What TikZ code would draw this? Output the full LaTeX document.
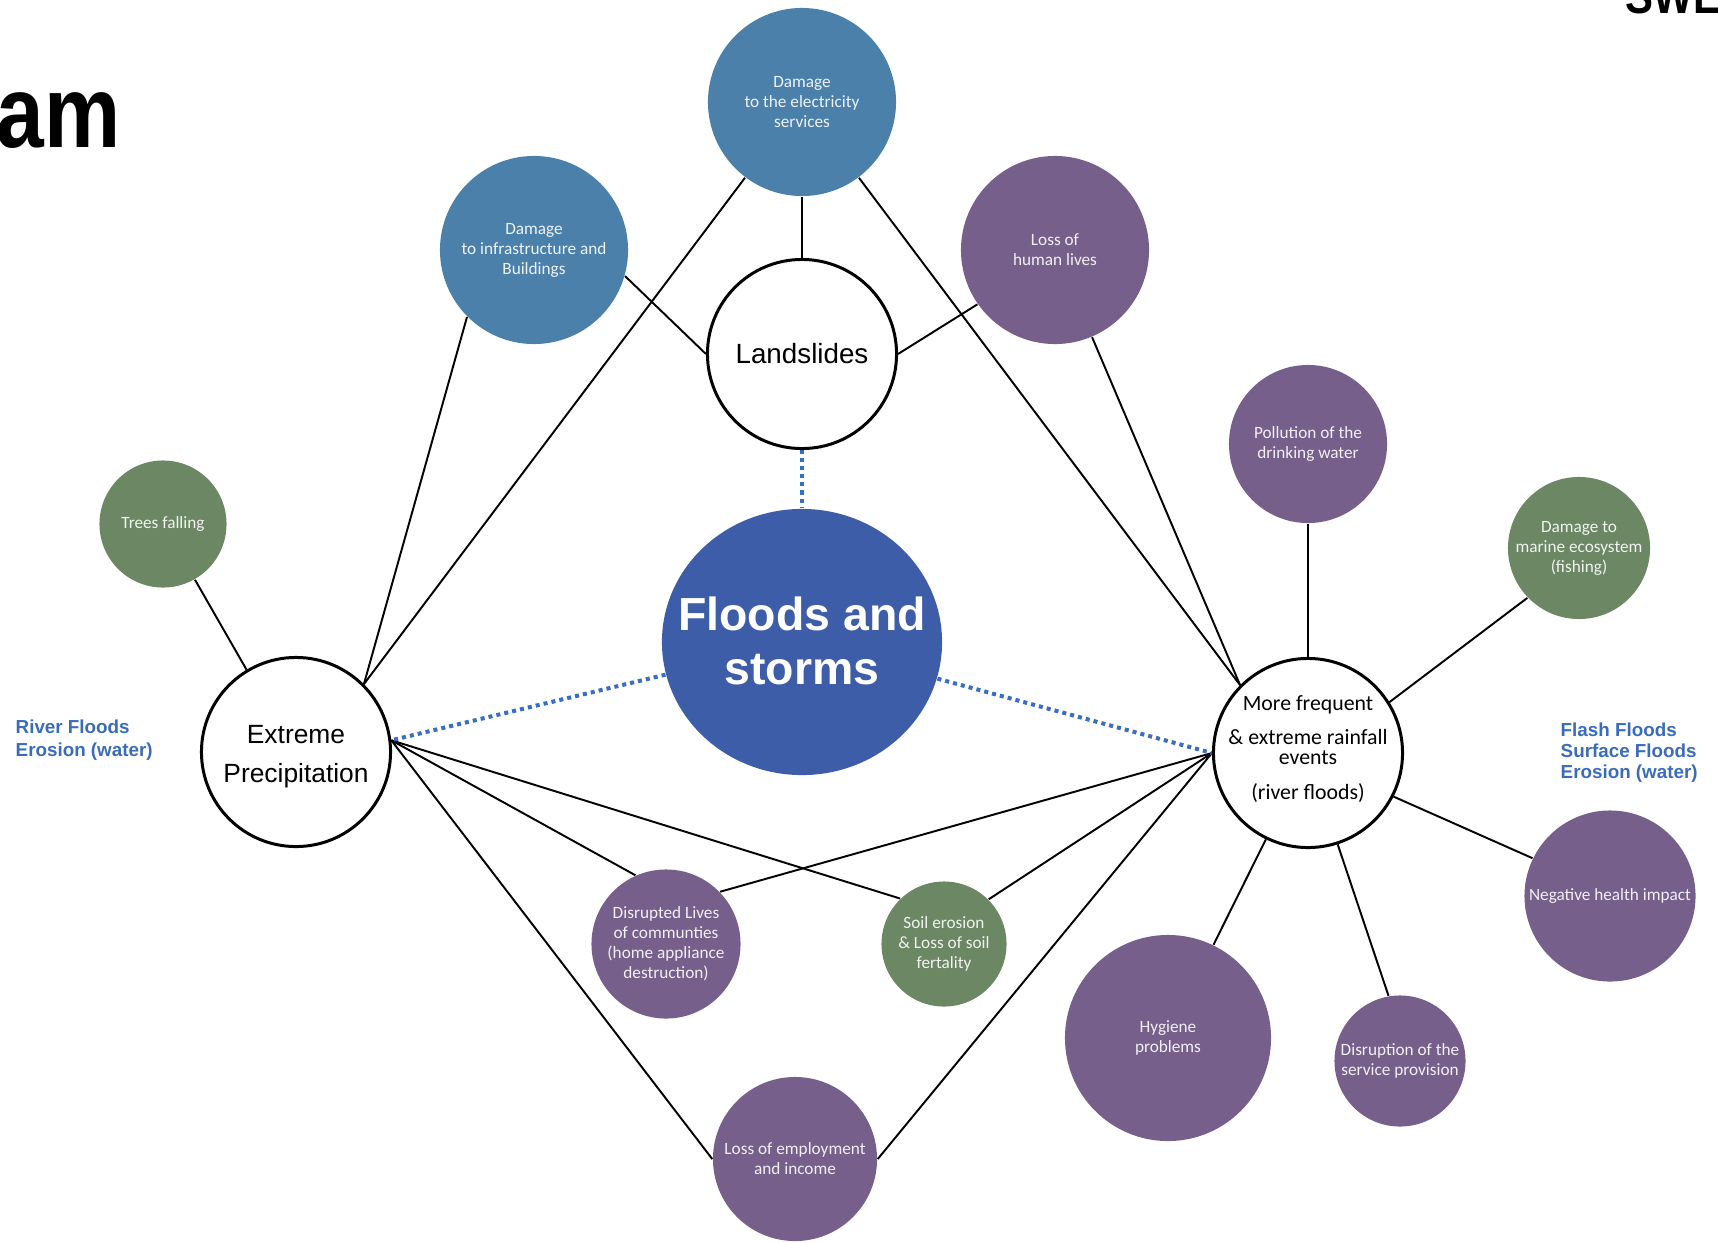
\documentclass[tikz,border=0pt]{standalone}
\usepackage{graphicx}
\usepackage{fontspec}
\setmainfont{Liberation Sans}
\newfontfamily\carlito{Carlito}
\usetikzlibrary{shapes.geometric,backgrounds}
\definecolor{steel}{HTML}{4A80AA}
\definecolor{plum}{HTML}{765F8A}
\definecolor{sage}{HTML}{6B8764}
\definecolor{royal}{HTML}{3D5DA9}
\definecolor{lblue}{HTML}{3A6CBA}
\definecolor{dotblue}{HTML}{3A6FC0}
\newcommand\smalltxt{\carlito\fontsize{4.9}{5.7}\selectfont}
\tikzset{
  bub/.style={circle, inner sep=0pt, text=white, text opacity=0.9, align=center, font=\smalltxt},
  wcirc/.style={circle, draw=black, line width=0.85pt, fill=white, inner sep=0pt, align=center},
  conn/.style={line width=0.55pt, black},
  dotl/.style={dotblue, line width=1.15pt, dash pattern=on 1.15pt off 1.15pt},
  lbl/.style={anchor=north west, align=left, text=lblue, inner sep=0pt}
}
\begin{document}
\begin{tikzpicture}[x=0.01cm, y=-0.01cm]
\path[use as bounding box] (0,0) rectangle (1718,1242);
\clip (0,0) rectangle (1718,1242);

% title fragments
\node[anchor=base east, inner sep=0pt, font=\bfseries\fontsize{29}{30}\selectfont] (ttl) at (121,147) {\scalebox{0.84}[1]{am}};
\node[anchor=base west, inner sep=0pt, font=\bfseries\fontsize{14}{15}\selectfont] (swe) at (1625,13) {\scalebox{0.85}[1]{SWE}};

% nodes
\node[bub, fill=steel, minimum size=1.88cm] (elec) at (802,102) {Damage\\to the electricity\\services};
\node[bub, fill=steel, minimum size=1.88cm] (infra) at (534,250) {Damage\\to infrastructure and\\Buildings};
\node[bub, fill=plum, minimum size=1.88cm] (lhl) at (1055,250) {Loss of\\human lives};
\node[wcirc, minimum size=1.89cm, font=\fontsize{7.9}{9}\selectfont] (lands) at (802,354) {Landslides};
\node[ellipse, fill=royal, minimum width=2.8cm, minimum height=2.66cm, inner sep=0pt,
  label={[text=white, align=center, inner sep=0pt, font=\bfseries\fontsize{13.2}{15.4}\selectfont, yshift=0.01cm]center:Floods and\\storms}] (floods) at (802,642) {};
\node[bub, fill=plum, minimum size=1.58cm] (poll) at (1308,444) {Pollution of the\\drinking water};
\node[bub, fill=sage, minimum size=1.42cm] (marine) at (1579,548) {Damage to\\marine ecosystem\\(fishing)};
\node[bub, fill=sage, minimum size=1.27cm] (trees) at (163,524) {Trees falling};
\node[wcirc, minimum size=1.89cm,
  label={[align=center, inner sep=0pt, font=\fontsize{7.5}{11.1}\selectfont, yshift=-0.05cm]center:Extreme\\Precipitation}] (ep) at (296,752) {};
\node[wcirc, minimum size=1.89cm,
  label={[align=center, inner sep=0pt, font=\carlito\fontsize{6.2}{5.7}\selectfont, yshift=0.04cm]center:More frequent\\[4pt]\& extreme rainfall\\events\\[4.2pt](river floods)}] (mf) at (1308,753) {};
\node[bub, fill=plum, minimum size=1.71cm] (nh) at (1610,896) {Negative health impact};
\node[bub, fill=plum, minimum size=1.49cm] (dis) at (666,944) {Disrupted Lives\\of communties\\(home appliance\\destruction)};
\node[bub, fill=sage, minimum size=1.25cm] (soil) at (944,944) {Soil erosion\\\& Loss of soil\\fertality};
\node[bub, fill=plum, minimum size=2.06cm] (hyg) at (1168,1038) {Hygiene\\problems};
\node[bub, fill=plum, minimum size=1.31cm] (dsp) at (1400,1061) {Disruption of the\\service provision};
\node[bub, fill=plum, minimum size=1.64cm] (emp) at (795,1159) {Loss of employment\\and income};

% side labels
\node[lbl, font=\bfseries\fontsize{5.35}{6.5}\selectfont] (rf) at (15,719) {River Floods\\Erosion (water)};
\node[lbl, font=\bfseries\fontsize{5.35}{5.95}\selectfont] (ff) at (1560,722) {Flash Floods\\Surface Floods\\Erosion (water)};

% connectors
\begin{scope}[on background layer]
\draw[conn] (elec) -- (lands);
\draw[conn] (infra.344) -- (lands.west);
\draw[conn] (lhl.215) -- (lands.east);
\draw[conn] (elec) -- (ep.45);
\draw[conn] (elec) -- (mf.135);
\draw[conn] (infra.225) -- (ep.45);
\draw[conn] (lhl) -- (mf.135);
\draw[conn] (poll) -- (mf);
\draw[conn] (marine.224) -- (mf.32);
\draw[conn] (trees) -- (ep.121);
\draw[conn] (ep.7) -- (dis.114);
\draw[conn] (ep.7) -- (soil.134);
\draw[conn] (ep.7) -- (emp.west);
\draw[conn] (mf.west) -- (dis.44);
\draw[conn] (mf.west) -- (soil.45);
\draw[conn] (mf.west) -- (emp.east);
\draw[conn] (mf.333) -- (nh.154);
\draw[conn] (mf.244) -- (hyg.64);
\draw[conn] (mf.288) -- (dsp.100);
\draw[dotl] (lands) -- (floods);
\draw[dotl] (floods) -- (ep.7);
\draw[dotl] (floods) -- (mf.west);
\end{scope}
\end{tikzpicture}
\end{document}
